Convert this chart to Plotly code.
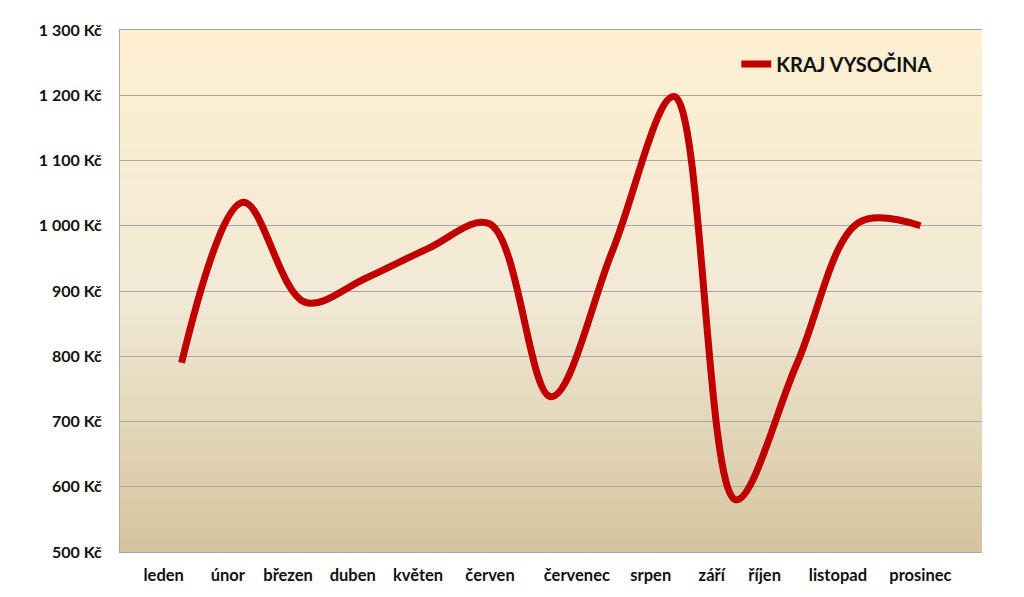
import plotly.graph_objects as go

# ---- data ----
point_index = list(range(13))
values = [790, 1036, 883, 920, 965, 1003, 738, 962, 1198, 580, 790, 1005, 1000]
series_name = "KRAJ VYSOČINA"

month_labels = ["leden", "únor", "březen", "duben", "květen", "červen",
                "červenec", "srpen", "září", "říjen", "listopad", "prosinec"]
month_label_pos = [-0.29, 0.75, 1.73, 2.78, 3.84, 5.01, 6.42, 7.62, 8.61, 9.47, 10.66, 12.0]

y_ticks = [500, 600, 700, 800, 900, 1000, 1100, 1200, 1300]
y_tick_text = ["500 Kč", "600 Kč", "700 Kč", "800 Kč", "900 Kč",
               "1 000 Kč", "1 100 Kč", "1 200 Kč", "1 300 Kč"]

FONT = "Lato, 'Liberation Sans', sans-serif"

fig = go.Figure()
fig.add_trace(go.Scatter(
    x=point_index, y=values, name=series_name, mode="lines",
    line=dict(color="#c00000", width=7, shape="spline", smoothing=1.0),
))

# gradient background for the plot area
def lerp(c1, c2, t):
    return tuple(round(a + (b - a) * t) for a, b in zip(c1, c2))

stops = [(0.0, (254, 239, 208)), (0.5, (242, 234, 214)), (1.0, (213, 196, 158))]
n = 80
shapes = []
for i in range(n):
    t = (i + 0.5) / n  # 0 at top, 1 at bottom
    for j in range(len(stops) - 1):
        if stops[j][0] <= t <= stops[j + 1][0]:
            tt = (t - stops[j][0]) / (stops[j + 1][0] - stops[j][0])
            c = lerp(stops[j][1], stops[j + 1][1], tt)
            break
    y1 = 1 - i / n
    y0 = 1 - (i + 1) / n
    shapes.append(dict(type="rect", xref="paper", yref="paper", x0=0, x1=1,
                       y0=y0 - 0.001, y1=y1 + 0.001, layer="below", line_width=0,
                       fillcolor="rgb(%d,%d,%d)" % c))

fig.update_layout(
    width=1016, height=589,
    margin=dict(l=112, r=42, t=17, b=37),
    paper_bgcolor="white", plot_bgcolor="rgba(0,0,0,0)",
    shapes=shapes,
    showlegend=True,
    legend=dict(x=0.715, y=0.935, xanchor="left", yanchor="middle",
                bgcolor="rgba(0,0,0,0)",
                font=dict(family=FONT, size=20, color="#111", weight="bold"),
                itemwidth=30),
    xaxis=dict(range=[-1, 13], tickvals=month_label_pos, ticktext=month_labels,
               showgrid=False, zeroline=False, showline=True, mirror=True,
               linecolor="#a6a6a6", linewidth=1,
               ticks="outside", ticklen=8, tickcolor="rgba(0,0,0,0)",
               tickfont=dict(family=FONT, size=16.5, color="#111", weight="bold")),
    yaxis=dict(range=[500, 1300], tickvals=y_ticks, ticktext=y_tick_text,
               showgrid=True, gridcolor="#a6a6a6", gridwidth=1, zeroline=False,
               showline=True, linecolor="#a6a6a6", linewidth=1,
               ticks="outside", ticklen=14, tickcolor="rgba(0,0,0,0)",
               tickfont=dict(family=FONT, size=16, color="#111", weight="bold")),
)

fig.write_html("out.html")
